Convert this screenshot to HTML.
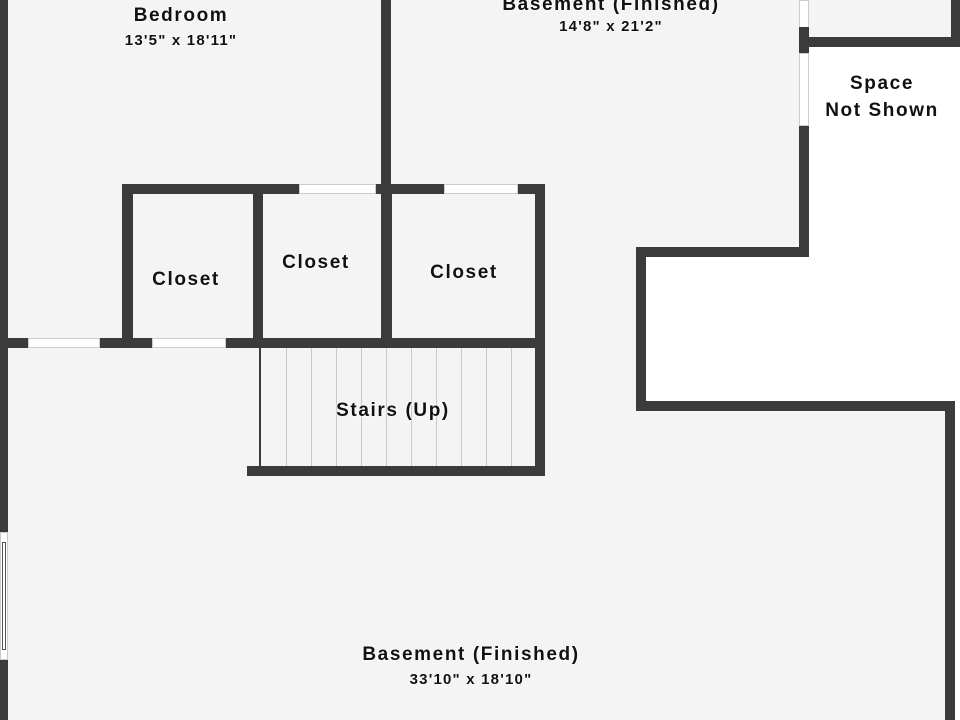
<!DOCTYPE html>
<html><head><style>
body{margin:0;width:960px;height:720px;overflow:hidden;background:#fff;position:relative;font-family:"Liberation Sans",sans-serif}
div{position:absolute}
.f{background:#f4f4f4}
.w{background:#3b3b3b}
.win{background:#fff;box-shadow:inset 0 0 0 1px #ccc}
.s{background:#c8c8c8;width:1px;top:348px;height:118px}
.t{position:absolute;text-align:center;font-weight:bold;color:#111;text-shadow:0 0 2px #fff,0 0 2px #fff;white-space:nowrap}
.n{font-size:19px;letter-spacing:1.6px}
.d{font-size:15px;letter-spacing:1.2px}
</style></head><body>
<div class="f" style="left:0;top:0;width:809px;height:720px"></div>
<div class="f" style="left:809px;top:0;width:142px;height:37px"></div>
<div class="f" style="left:646px;top:411px;width:299px;height:309px"></div>
<div style="left:646px;top:257px;width:163px;height:144px;background:#fff"></div>
<div class="w" style="left:0;top:0;width:8px;height:720px"></div>
<div class="win" style="left:0;top:532px;width:8px;height:128px"></div>
<div style="left:2px;top:542px;width:4px;height:108px;border:1px solid #555;box-sizing:border-box"></div>
<div class="w" style="left:381px;top:0;width:10px;height:194px"></div>
<div class="w" style="left:122px;top:184px;width:423px;height:10px"></div>
<div class="win" style="left:299px;top:184px;width:77px;height:10px"></div>
<div class="win" style="left:444px;top:184px;width:74px;height:10px"></div>
<div class="w" style="left:122px;top:184px;width:11px;height:164px"></div>
<div class="w" style="left:253px;top:184px;width:10px;height:164px"></div>
<div class="w" style="left:381px;top:184px;width:11px;height:164px"></div>
<div class="w" style="left:535px;top:184px;width:10px;height:292px"></div>
<div class="w" style="left:0;top:338px;width:545px;height:10px"></div>
<div class="win" style="left:28px;top:338px;width:72px;height:10px"></div>
<div class="win" style="left:152px;top:338px;width:74px;height:10px"></div>
<div class="w" style="left:247px;top:466px;width:298px;height:10px"></div>
<div style="left:259px;top:348px;width:2px;height:118px;background:#3b3b3b"></div>
<div class="s" style="left:286px"></div><div class="s" style="left:311px"></div><div class="s" style="left:336px"></div><div class="s" style="left:361px"></div><div class="s" style="left:386px"></div><div class="s" style="left:411px"></div><div class="s" style="left:436px"></div><div class="s" style="left:461px"></div><div class="s" style="left:486px"></div><div class="s" style="left:511px"></div>
<div class="win" style="left:799px;top:0;width:10px;height:28px"></div>
<div class="w" style="left:799px;top:27px;width:10px;height:26px"></div>
<div class="win" style="left:799px;top:53px;width:10px;height:73px"></div>
<div class="w" style="left:799px;top:126px;width:10px;height:131px"></div>
<div class="w" style="left:809px;top:37px;width:151px;height:10px"></div>
<div class="w" style="left:951px;top:0;width:9px;height:47px"></div>
<div class="w" style="left:636px;top:247px;width:173px;height:10px"></div>
<div class="w" style="left:636px;top:247px;width:10px;height:164px"></div>
<div class="w" style="left:636px;top:401px;width:319px;height:10px"></div>
<div class="w" style="left:945px;top:401px;width:10px;height:319px"></div>
<div class="t n" style="left:81px;top:5px;width:200px">Bedroom</div>
<div class="t d" style="left:81px;top:32px;width:200px">13'5" x 18'11"</div>
<div class="t n" style="left:461px;top:-6px;width:300px">Basement (Finished)</div>
<div class="t d" style="left:461px;top:18px;width:300px">14'8" x 21'2"</div>
<div class="t n" style="left:802px;top:70px;width:160px;line-height:27px">Space<br>Not Shown</div>
<div class="t n" style="left:136px;top:269px;width:100px">Closet</div>
<div class="t n" style="left:266px;top:252px;width:100px">Closet</div>
<div class="t n" style="left:414px;top:262px;width:100px">Closet</div>
<div class="t n" style="left:313px;top:400px;width:160px">Stairs (Up)</div>
<div class="t n" style="left:321px;top:644px;width:300px">Basement (Finished)</div>
<div class="t d" style="left:321px;top:671px;width:300px">33'10" x 18'10"</div>
</body></html>
